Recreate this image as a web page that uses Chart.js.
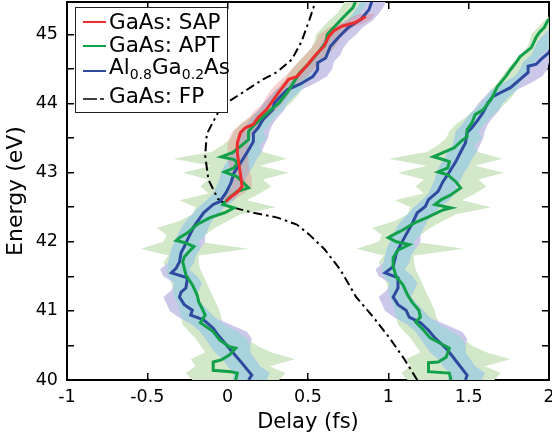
<!DOCTYPE html>
<html lang="en">

<head>
  <meta charset="UTF-8">
  <title>Energy vs Delay</title>
  <script src="https://cdn.jsdelivr.net/npm/chart.js"></script>
  <style>
    body { margin: 0; background: #fff; }
    #wrap { position: relative; width: 552px; height: 437px; font-family: 'DejaVu Sans', sans-serif; }
    #legendBox { position: absolute; left: 75px; top: 7px; width: 153px; height: 106px; box-sizing: border-box;
      border: 1.5px solid #222; background: #fff; }
    .lt { position: absolute; left: 109px; font-size: 21.5px; line-height: 21px; color: #000; white-space: nowrap; }
    .lt sub { font-size: 14px; vertical-align: -5px; line-height: 0; }
    .ls { position: absolute; left: 83px; width: 23px; height: 2px; }
  </style>
</head>

<body>
  <div id="wrap">
    <canvas id="chart"></canvas>
    <div id="legendBox"></div>
    <div class="ls" style="top:21px;background:#ee2e2e"></div>
    <div class="lt" style="top:11px">GaAs: SAP</div>
    <div class="ls" style="top:45px;background:#12a04a"></div>
    <div class="lt" style="top:34px">GaAs: APT</div>
    <div class="ls" style="top:70px;background:#2e4a9e"></div>
    <div class="lt" style="top:56px">Al<sub>0.8</sub>Ga<sub>0.2</sub>As</div>
    <svg style="position:absolute;left:83px;top:97px" width="24" height="4">
      <line x1="0" y1="2" x2="24" y2="2" stroke="#000" stroke-width="1.6" stroke-dasharray="14 3 4 10" />
    </svg>
    <div class="lt" style="top:85px">GaAs: FP</div>
  </div>

  <script>
    // energy grid used by the uncertainty bands (eV)
    const bandE = [40.0, 40.1, 40.2, 40.3, 40.4, 40.5, 40.6, 40.7, 40.8, 40.9,
      41.0, 41.1, 41.2, 41.3, 41.4, 41.5, 41.6, 41.7, 41.8, 41.9,
      42.0, 42.1, 42.2, 42.3, 42.4, 42.5, 42.6, 42.7, 42.8, 42.9,
      43.0, 43.1, 43.2, 43.3, 43.4, 43.5, 43.6, 43.7, 43.8, 43.9,
      44.0, 44.1, 44.2, 44.3, 44.4, 44.5, 44.6, 44.7, 44.8, 44.9,
      45.0, 45.1, 45.2, 45.3, 45.4, 45.5];

    // GaAs: APT band (left branch)
    const greenLo = [-0.22, -0.26, -0.20, -0.23, -0.14, -0.17, -0.20, -0.24, -0.28, -0.29,
      -0.30, -0.31, -0.33, -0.34, -0.35, -0.37, -0.38, -0.40, -0.37, -0.54,
      -0.40, -0.38, -0.44, -0.30, -0.22, -0.20, -0.30, -0.12, -0.17, -0.12,
      -0.28, -0.10, -0.34, -0.10, -0.03, 0.02, 0.04, 0.08, 0.14, 0.19,
      0.24, 0.27, 0.30, 0.34, 0.37, 0.40, 0.44, 0.48, 0.52, 0.54,
      0.55, 0.59, 0.63, 0.68, 0.71, 0.73];
    const greenHi = [0.32, 0.36, 0.26, 0.42, 0.27, 0.18, 0.12, 0.06, -0.02, -0.04,
      -0.05, -0.07, -0.09, -0.11, -0.13, -0.15, -0.17, -0.18, -0.18, 0.13,
      -0.18, -0.14, -0.08, 0.00, 0.08, 0.30, 0.12, 0.20, 0.27, 0.22,
      0.38, 0.20, 0.37, 0.22, 0.20, 0.24, 0.22, 0.26, 0.29, 0.34,
      0.39, 0.43, 0.46, 0.48, 0.51, 0.54, 0.57, 0.61, 0.66, 0.68,
      0.70, 0.73, 0.77, 0.82, 0.85, 0.87];

    // Al0.8Ga0.2As band (left branch)
    const blueLo = [0.03, 0.04, 0.00, -0.03, -0.08, -0.11, -0.14, -0.17, -0.22, -0.30,
      -0.36, -0.38, -0.40, -0.35, -0.33, -0.40, -0.42, -0.37, -0.36, -0.35,
      -0.33, -0.31, -0.29, -0.26, -0.22, -0.18, -0.13, -0.09, -0.07, -0.05,
      -0.04, -0.02, 0.01, 0.03, 0.06, 0.07, 0.08, 0.12, 0.15, 0.19,
      0.22, 0.26, 0.30, 0.38, 0.45, 0.48, 0.50, 0.55, 0.57, 0.59,
      0.63, 0.67, 0.74, 0.78, 0.81, 0.83];
    const blueHi = [0.24, 0.26, 0.20, 0.17, 0.14, 0.14, 0.15, 0.12, 0.02, -0.08,
      -0.12, -0.16, -0.20, -0.18, -0.16, -0.19, -0.24, -0.21, -0.20, -0.17,
      -0.14, -0.14, -0.12, -0.10, -0.06, -0.02, 0.04, 0.07, 0.09, 0.11,
      0.13, 0.16, 0.18, 0.21, 0.23, 0.25, 0.26, 0.28, 0.31, 0.35,
      0.37, 0.41, 0.46, 0.55, 0.62, 0.65, 0.66, 0.70, 0.72, 0.75,
      0.80, 0.84, 0.90, 0.94, 0.97, 0.99];

    // right branch bands
    const greenLo2 = [1.12, 1.08, 1.14, 1.11, 1.20, 1.17, 1.14, 1.10, 1.06, 1.05,
      1.04, 1.03, 1.01, 1.00, 0.99, 0.97, 0.96, 0.94, 0.97, 0.80,
      0.94, 0.96, 0.90, 1.04, 1.12, 1.14, 1.04, 1.22, 1.17, 1.22,
      1.06, 1.24, 1.00, 1.24, 1.31, 1.36, 1.38, 1.42, 1.48, 1.53,
      1.58, 1.61, 1.64, 1.68, 1.71, 1.74, 1.78, 1.82, 1.86, 1.88,
      1.89, 1.93, 1.97, 2.02, 2.05, 2.07];
    const greenHi2 = [1.66, 1.70, 1.60, 1.76, 1.61, 1.52, 1.46, 1.40, 1.32, 1.30,
      1.29, 1.27, 1.25, 1.23, 1.21, 1.19, 1.17, 1.16, 1.16, 1.47,
      1.16, 1.20, 1.26, 1.34, 1.42, 1.64, 1.46, 1.54, 1.61, 1.56,
      1.72, 1.54, 1.71, 1.56, 1.54, 1.58, 1.56, 1.60, 1.63, 1.68,
      1.73, 1.77, 1.80, 1.82, 1.85, 1.88, 1.91, 1.95, 2.00, 2.02,
      2.04, 2.07, 2.11, 2.16, 2.19, 2.21];
    const blueLo2 = [1.37, 1.38, 1.34, 1.31, 1.26, 1.23, 1.20, 1.17, 1.12, 1.04,
      0.98, 0.96, 0.94, 0.99, 1.01, 0.94, 0.92, 0.97, 0.98, 0.99,
      1.01, 1.03, 1.05, 1.08, 1.12, 1.16, 1.21, 1.25, 1.27, 1.29,
      1.30, 1.32, 1.35, 1.37, 1.40, 1.41, 1.42, 1.46, 1.49, 1.53,
      1.56, 1.60, 1.64, 1.72, 1.79, 1.82, 1.84, 1.89, 1.91, 1.93,
      1.97, 2.01, 2.08, 2.12, 2.15, 2.17];
    const blueHi2 = [1.58, 1.60, 1.54, 1.51, 1.48, 1.48, 1.49, 1.46, 1.36, 1.26,
      1.22, 1.18, 1.14, 1.16, 1.18, 1.15, 1.10, 1.13, 1.14, 1.17,
      1.20, 1.20, 1.22, 1.24, 1.28, 1.32, 1.38, 1.41, 1.43, 1.45,
      1.47, 1.50, 1.52, 1.55, 1.57, 1.59, 1.60, 1.62, 1.65, 1.69,
      1.71, 1.75, 1.80, 1.89, 1.96, 1.99, 2.00, 2.04, 2.06, 2.09,
      2.14, 2.18, 2.24, 2.28, 2.31, 2.33];

    // GaAs: SAP band
    const redBandE = [42.6, 42.7, 42.8, 42.9, 43.0, 43.1, 43.2, 43.3, 43.4, 43.5, 43.6, 43.7, 43.8, 43.9,
      44.0, 44.1, 44.2, 44.3, 44.4, 44.5, 44.6, 44.7, 44.8, 44.9, 45.0, 45.1, 45.2, 45.3];
    const redLo = [-0.05, -0.01, 0.03, 0.02, 0.02, 0.01, 0.00, 0.00, 0.00, 0.01, 0.03, 0.08, 0.13, 0.17,
      0.22, 0.24, 0.27, 0.31, 0.36, 0.40, 0.44, 0.48, 0.52, 0.55, 0.57, 0.63, 0.73, 0.82];
    const redHi = [0.03, 0.10, 0.15, 0.15, 0.14, 0.13, 0.13, 0.12, 0.13, 0.14, 0.16, 0.21, 0.25, 0.30,
      0.34, 0.37, 0.40, 0.44, 0.50, 0.54, 0.58, 0.62, 0.66, 0.69, 0.72, 0.78, 0.88, 0.92];

    // mean curves: energy (eV) and delay (fs)
    const greenE = [40.0, 40.1, 40.12, 40.14, 40.26, 40.29, 40.36, 40.46, 40.48, 40.58, 40.7, 40.83, 40.94,
      41.04, 41.13, 41.23, 41.38, 41.52, 41.62, 41.71, 41.78, 41.86, 41.93, 41.99, 42.02, 42.06, 42.13,
      42.25, 42.35, 42.42, 42.49, 42.54, 42.64, 42.73, 42.78, 42.87, 42.94, 43.01, 43.07, 43.14, 43.19,
      43.23, 43.29, 43.38, 43.48, 43.6, 43.7, 43.81, 44.01, 44.16, 44.45, 44.59, 44.73, 44.88, 45.0,
      45.1, 45.25, 45.39, 45.5];
    const greenD = [0.05, 0.06, 0.02, -0.09, -0.09, -0.04, 0.01, 0.05, 0.01, -0.05, -0.09, -0.17, -0.14,
      -0.16, -0.18, -0.19, -0.22, -0.26, -0.27, -0.28, -0.27, -0.24, -0.21, -0.27, -0.32, -0.30, -0.25,
      -0.19, -0.11, -0.02, 0.04, -0.03, 0.01, 0.06, 0.13, 0.09, 0.06, -0.02, 0.04, 0.06, 0.04,
      -0.04, 0.03, 0.08, 0.13, 0.13, 0.17, 0.22, 0.32, 0.37, 0.45, 0.51, 0.56, 0.61, 0.62,
      0.66, 0.72, 0.78, 0.80];

    const blueE = [40.0, 40.07, 40.27, 40.43, 40.65, 40.75, 40.87, 40.94, 41.01, 41.09, 41.2, 41.27, 41.33,
      41.48, 41.55, 41.62, 41.71, 41.84, 41.93, 42.03, 42.22, 42.42, 42.54, 42.58, 42.71, 42.85, 43.0,
      43.14, 43.29, 43.45, 43.57, 43.65, 43.77, 43.91, 44.01, 44.2, 44.28, 44.39, 44.49, 44.59, 44.66,
      44.83, 44.96, 45.1, 45.22, 45.36, 45.5];
    const blueD = [0.13, 0.15, 0.08, 0.02, -0.06, -0.09, -0.15, -0.23, -0.22, -0.27, -0.30, -0.29, -0.26,
      -0.25, -0.35, -0.32, -0.30, -0.29, -0.27, -0.25, -0.21, -0.15, -0.09, -0.05, -0.01, 0.02, 0.04,
      0.08, 0.12, 0.16, 0.16, 0.19, 0.22, 0.28, 0.29, 0.37, 0.45, 0.53, 0.56, 0.56, 0.61,
      0.64, 0.69, 0.75, 0.83, 0.88, 0.90];

    const redE = [42.58, 42.65, 42.72, 42.8, 42.97, 43.12, 43.29, 43.43, 43.58, 43.65, 43.7, 43.8, 43.91,
      44.17, 44.35, 44.39, 44.54, 44.71, 44.83, 44.97, 45.05, 45.12, 45.17, 45.26];
    const redD = [-0.01, 0.02, 0.06, 0.09, 0.08, 0.07, 0.06, 0.06, 0.08, 0.11, 0.16, 0.19, 0.24,
      0.32, 0.38, 0.43, 0.49, 0.55, 0.60, 0.63, 0.66, 0.71, 0.79, 0.86];

    const greenE2 = [40.0, 40.1, 40.12, 40.25, 40.26, 40.33, 40.46, 40.51, 40.61, 40.72, 40.84, 40.91, 41.01,
      41.12, 41.23, 41.38, 41.49, 41.64, 41.77, 41.88, 41.96, 42.0, 42.06, 42.1, 42.17, 42.27, 42.36,
      42.46, 42.49, 42.54, 42.61, 42.68, 42.78, 42.87, 42.97, 43.01, 43.07, 43.16, 43.19, 43.23, 43.29,
      43.36, 43.45, 43.52, 43.62, 43.72, 43.84, 43.91, 44.06, 44.25, 44.39, 44.49, 44.61, 44.68, 44.81,
      44.96, 45.03, 45.1, 45.19, 45.3];
    const greenD2 = [1.39, 1.38, 1.25, 1.25, 1.31, 1.36, 1.38, 1.34, 1.26, 1.22, 1.17, 1.20, 1.19,
      1.15, 1.12, 1.09, 1.05, 1.03, 1.03, 1.06, 1.13, 1.05, 1.00, 1.03, 1.09, 1.16, 1.25,
      1.34, 1.39, 1.29, 1.33, 1.39, 1.45, 1.42, 1.37, 1.31, 1.37, 1.38, 1.34, 1.28, 1.34,
      1.41, 1.45, 1.49, 1.49, 1.52, 1.54, 1.59, 1.64, 1.68, 1.73, 1.76, 1.80, 1.82, 1.89,
      1.92, 1.94, 1.97, 1.99, 2.03];

    const blueE2 = [40.0, 40.07, 40.25, 40.43, 40.61, 40.72, 40.83, 40.91, 41.01, 41.09, 41.2, 41.33, 41.48,
      41.55, 41.64, 41.84, 41.93, 42.06, 42.27, 42.42, 42.51, 42.61, 42.73, 42.87, 43.01, 43.16, 43.3,
      43.43, 43.58, 43.65, 43.74, 43.87, 44.01, 44.1, 44.16, 44.23, 44.35, 44.45, 44.54, 44.57, 44.64,
      44.74, 44.9, 45.05];
    const blueD2 = [1.48, 1.49, 1.43, 1.37, 1.29, 1.25, 1.20, 1.13, 1.11, 1.06, 1.03, 1.06, 1.06,
      0.98, 1.03, 1.05, 1.07, 1.10, 1.15, 1.18, 1.23, 1.25, 1.31, 1.34, 1.38, 1.42, 1.45,
      1.48, 1.49, 1.52, 1.55, 1.59, 1.62, 1.65, 1.70, 1.76, 1.82, 1.87, 1.87, 1.92, 1.95,
      2.00, 2.03, 2.09];

    // GaAs: FP (dash-dot)
    const fpE = [40.0, 40.3, 40.6, 40.9, 41.2, 41.6, 41.9, 42.1, 42.25, 42.35, 42.42, 42.51, 42.62, 42.9,
      43.25, 43.56, 43.87, 44.05, 44.2, 44.35, 44.46, 44.64, 44.9, 45.22, 45.5];
    const fpD = [1.18, 1.10, 1.01, 0.91, 0.80, 0.70, 0.60, 0.51, 0.43, 0.31, 0.16, 0.01, -0.06, -0.12,
      -0.14, -0.13, -0.06, 0.02, 0.12, 0.22, 0.31, 0.40, 0.46, 0.51, 0.55];

    const RED = '#ee2e2e', GREEN = '#12a04a', BLUE = '#2e4a9e';

    function pts(es, ds) {
      return es.map((e, i) => ({ x: ds[i], y: e }));
    }

    function curve(es, ds, color, order, dash) {
      return {
        data: pts(es, ds), borderColor: color, borderWidth: dash ? 2 : 3, borderDash: dash || [],
        pointRadius: 0, fill: false, tension: 0, order: order
      };
    }

    // two datasets: lower edge, then upper edge filled back to it
    function band(es, lo, hi, color, order) {
      return [
        { data: pts(es, lo), borderWidth: 0, borderColor: 'transparent', pointRadius: 0, fill: false, order: order },
        { data: pts(es, hi), borderWidth: 0, borderColor: 'transparent', pointRadius: 0, fill: '-1',
          backgroundColor: color, order: order }
      ];
    }

    // overlap of the APT and AlGaAs bands is drawn teal
    function overlap(loA, hiA, loB, hiB) {
      const lo = loA.map((v, i) => Math.max(v, loB[i]));
      const hi = hiA.map((v, i) => Math.max(lo[i], Math.min(v, hiB[i])));
      return [lo, hi];
    }
    const ov1 = overlap(greenLo, greenHi, blueLo, blueHi);
    const ov2 = overlap(greenLo2, greenHi2, blueLo2, blueHi2);

    const datasets = [
      ...band(bandE, greenLo, greenHi, '#d2e8c8', 10),
      ...band(bandE, greenLo2, greenHi2, '#d2e8c8', 10),
      ...band(bandE, blueLo, blueHi, '#cbc8ea', 9),
      ...band(bandE, blueLo2, blueHi2, '#cbc8ea', 9),
      ...band(bandE, ov1[0], ov1[1], '#a8d2dc', 8),
      ...band(bandE, ov2[0], ov2[1], '#a8d2dc', 8),
      ...band(redBandE, redLo, redHi, 'rgba(240, 110, 120, 0.3)', 7),
      curve(fpE, fpD, '#000', 5, [9, 4, 2.5, 4]),
      curve(blueE, blueD, BLUE, 3),
      curve(blueE2, blueD2, BLUE, 3),
      curve(greenE, greenD, GREEN, 2),
      curve(greenE2, greenD2, GREEN, 2),
      curve(redE, redD, RED, 1)
    ];

    Chart.defaults.font.family = "'DejaVu Sans', sans-serif";
    Chart.defaults.color = '#000';

    const gridOpts = { drawOnChartArea: false, tickLength: -7, color: '#000', lineWidth: 1.5 };
    const borderOpts = { display: true, color: '#000', width: 2 };

    new Chart(document.getElementById('chart'), {
      type: 'line',
      data: { datasets: datasets },
      options: {
        indexAxis: 'y',
        responsive: true,
        maintainAspectRatio: false,
        animation: false,
        events: [],
        layout: { padding: { left: 0, right: 3, top: 2, bottom: 0 } },
        plugins: { legend: { display: false }, tooltip: { enabled: false } },
        scales: {
          x: {
            type: 'linear', position: 'bottom', min: -1, max: 2,
            grid: gridOpts, border: borderOpts,
            ticks: { stepSize: 0.5, padding: 14, font: { size: 17.5 }, callback: v => String(v) },
            title: { display: true, text: 'Delay (fs)', font: { size: 21 }, padding: { top: 0, bottom: 2 } },
            afterFit: s => { s.height = 57; s.paddingLeft = 0; s.paddingRight = 0; }
          },
          y: {
            type: 'linear', position: 'left', min: 40, max: 45.47,
            grid: gridOpts, border: borderOpts,
            ticks: {
              stepSize: 0.5, includeBounds: false, padding: 16, font: { size: 17.5 },
              callback: v => (Number.isInteger(v) ? String(v) : '')
            },
            title: { display: true, text: 'Energy (eV)', font: { size: 22 }, padding: { top: 3, bottom: 0 } },
            afterFit: s => { s.width = 67; s.paddingTop = 0; s.paddingBottom = 0; }
          },
          x2: {
            type: 'linear', axis: 'x', position: 'top', min: -1, max: 2,
            grid: gridOpts, border: borderOpts,
            ticks: { stepSize: 0.5, display: false },
            afterFit: s => { s.height = 0; s.paddingLeft = 0; s.paddingRight = 0; }
          },
          y2: {
            type: 'linear', axis: 'y', position: 'right', min: 40, max: 45.47,
            grid: gridOpts, border: borderOpts,
            ticks: { stepSize: 0.5, includeBounds: false, display: false },
            afterFit: s => { s.width = 0; s.paddingTop = 0; s.paddingBottom = 0; }
          }
        }
      }
    });
  </script>
</body>

</html>
